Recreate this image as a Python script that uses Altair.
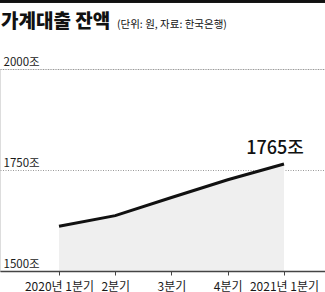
import altair as alt
import pandas as pd

quarters = [0, 1, 2, 3, 4]
tick_labels = ["2020년 1분기", "2분기", "3분기", "4분기", "2021년 1분기"]
values = [1611, 1637, 1682, 1726, 1765]
y_ticks = [1500, 1750, 2000]
annot = ["", "", "", "", "1765조"]
title_text = "가계대출 잔액"
subtitle_text = "(단위: 원, 자료: 한국은행)"

df = pd.DataFrame({"q": quarters, "v": values, "label": annot})

FONT = "Noto Sans CJK KR"
label_expr = "[" + ",".join(f"'{t}'" for t in tick_labels) + "][datum.value]"

x = alt.X("q:Q", scale=alt.Scale(domain=[-1.049, 4.729], nice=False, zero=False),
          axis=alt.Axis(values=quarters, labelExpr=label_expr, title=None, grid=False,
                        domainColor="#444", domainWidth=1.5, tickColor="#444", tickSize=4,
                        labelFont=FONT, labelFontSize=12, labelColor="#1a1a1a", labelPadding=6,
                        labelFlush=False, labelOverlap=False, labelBaseline="top", zindex=1))
y = alt.Y("v:Q", scale=alt.Scale(domain=[1500, 2000], nice=False, zero=False),
          axis=alt.Axis(values=y_ticks, labelExpr="datum.value + '조'", title=None,
                        grid=True, gridColor="#999", gridDash=[1, 1.5], gridWidth=1,
                        domain=False, ticks=False, labelAlign="left", labelBaseline="bottom",
                        labelPadding=-3, labelOffset=-2, labelFont=FONT, labelFontSize=11.5,
                        labelColor="#1a1a1a"))

area = alt.Chart(df).mark_area(color="#efefef").encode(x=x, y=y, y2=alt.datum(1500))
line = alt.Chart(df).mark_line(color="#111", strokeWidth=3).encode(x="q:Q", y="v:Q")
text = alt.Chart(df).mark_text(font=FONT, fontSize=18, fontWeight=500, color="#111",
                               baseline="bottom", align="center", dx=-9, dy=-6).encode(
    x="q:Q", y="v:Q", text="label:N")
topbar = alt.Chart(df).mark_rule(color="#111", strokeWidth=3).encode(
    x=alt.value(0), x2=alt.value(325), y=alt.value(-68))
ttl = alt.Chart(pd.DataFrame({"t": [title_text]})).mark_text(
    font=FONT, fontSize=19, fontWeight=900, color="#111", align="left",
    baseline="alphabetic").encode(x=alt.value(1), y=alt.value(-41), text="t:N")
sub = alt.Chart(pd.DataFrame({"t": [subtitle_text]})).mark_text(
    font=FONT, fontSize=10.5, color="#111", align="left", baseline="alphabetic").encode(
    x=alt.value(117), y=alt.value(-41), text="t:N")

chart = alt.layer(area, line, text, topbar, ttl, sub).properties(
    width=325, height=202,
    autosize=alt.AutoSizeParams(type="none"),
    padding={"left": 0, "top": 69, "right": 0, "bottom": 21},
).configure_view(stroke=None).configure(background="white")

chart.save("out.html", embed_options={"renderer": "svg", "actions": False})
